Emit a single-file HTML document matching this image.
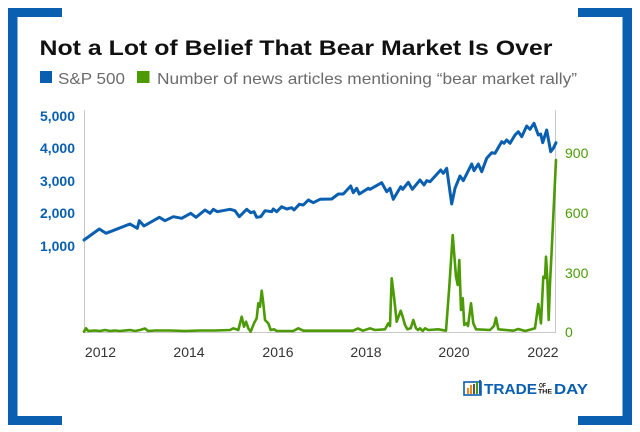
<!DOCTYPE html>
<html>
<head>
<meta charset="utf-8">
<style>
html,body{margin:0;padding:0;background:#fff;}
svg{display:block;}
text{font-family:"Liberation Sans",sans-serif;}
</style>
</head>
<body>
<svg width="640" height="432" viewBox="0 0 640 432" xmlns="http://www.w3.org/2000/svg">
<rect width="640" height="432" fill="#fff"/>
<!-- frame brackets -->
<g fill="#0a5fb0">
<rect x="8" y="8" width="54" height="9"/>
<rect x="8" y="8" width="9.5" height="417"/>
<rect x="8" y="416" width="54" height="9"/>
<rect x="578" y="8" width="54" height="9"/>
<rect x="622.5" y="8" width="9.5" height="417"/>
<rect x="578" y="416" width="54" height="9"/>
</g>
<!-- title -->
<text x="39.5" y="55" font-size="21" font-weight="bold" fill="#111" textLength="513" lengthAdjust="spacingAndGlyphs">Not a Lot of Belief That Bear Market Is Over</text>
<!-- legend -->
<rect x="40" y="71" width="12" height="12" fill="#0a5fb0"/>
<text x="58" y="84" font-size="16" fill="#6b6b6b" textLength="67" lengthAdjust="spacingAndGlyphs">S&amp;P 500</text>
<rect x="137" y="71" width="12.5" height="12" fill="#4c9a06"/>
<text x="157" y="84" font-size="16" fill="#6b6b6b" textLength="420" lengthAdjust="spacingAndGlyphs">Number of news articles mentioning “bear market rally”</text>
<!-- axes -->
<g stroke="#c8c8c8" stroke-width="1">
<line x1="84.5" y1="110" x2="84.5" y2="332"/>
<line x1="555.5" y1="110" x2="555.5" y2="332"/>
<line x1="84" y1="332.5" x2="556" y2="332.5"/>
</g>
<!-- left labels -->
<g font-size="14" font-weight="bold" fill="#0a5fb0" text-anchor="end">
<text x="75" y="121">5,000</text>
<text x="75" y="153">4,000</text>
<text x="75" y="186">3,000</text>
<text x="75" y="218">2,000</text>
<text x="75" y="251">1,000</text>
</g>
<!-- right labels -->
<g font-size="14" fill="#4c9a06">
<text x="565" y="158">900</text>
<text x="565" y="218">600</text>
<text x="565" y="278">300</text>
<text x="565" y="337">0</text>
</g>
<!-- x labels -->
<g font-size="14" fill="#333" text-anchor="middle">
<text x="100.5" y="357">2012</text>
<text x="189" y="357">2014</text>
<text x="278" y="357">2016</text>
<text x="366" y="357">2018</text>
<text x="454" y="357">2020</text>
<text x="543" y="357">2022</text>
</g>
<!-- green series -->
<polyline fill="none" stroke="#4c9a06" stroke-width="2.6" stroke-linejoin="round" stroke-linecap="round"
points="84,331.7 86,328.3 88.3,331 95,330.5 100,331 105,330 110,331 115,330.5 120,331 130,330 135,331 140,330 145,328.5 148,331 155,330.5 170,330.5 185,331 200,330.5 215,330.5 230,330 233.3,328.3 238.3,330 241.7,316.7 244,326.7 246,321.7 248.3,328.3 250.7,331.7 254,323.3 256.7,318.3 258.3,303.3 260,306.7 261.7,290.7 263.3,303.3 265,320 268.3,323.3 270.7,330 274,329.3 276.7,331 293.3,331 298.3,328.3 303.3,330.7 320,330.7 353,330.7 358,328.5 363,330.7 370,328.3 375,330 385,329.3 388.3,323.3 390,326 391.7,278.3 394,296.7 396.7,321.7 400.7,310.7 402.7,316.7 405,325 407.3,329.3 410.7,328.3 413.3,320 416,328.3 418,330 420,328.3 422.7,331 425,328.3 428.3,330 438.3,329.3 446,330.7 449.3,286.7 452.7,235 456,276.7 457.7,285 459.3,260 461,310 462.7,298.3 464.3,325 466.7,323.3 468,326 471,303.3 473.3,323.3 476,329.3 490,330 494,326 496,317.7 498.3,329.3 513.3,330.7 518.3,329 525,331 531.7,329.3 535,328.3 538.3,304 541,323.3 543.3,276.7 545,278 546,256.7 547.3,278.3 548.7,320 550,283.3 551.7,250 556,160"/>
<!-- blue series -->
<polyline fill="none" stroke="#0a5fb0" stroke-width="3" stroke-linejoin="round" stroke-linecap="round"
points="84,240 99.3,229 106,233.3 130,224 137.3,228.3 139.3,220.7 144,226 159.3,217.3 165,220.7 173.3,216.7 181.7,218.3 190.7,213.3 196,217.3 205,210 210,213.3 213.3,209.3 217.3,211.7 230,209.3 235,210.7 239.3,216.7 246.7,209.3 250.7,212.7 254,211.7 256.7,217.3 260.7,216.7 265,210.7 271.7,211.7 273.3,209 276.7,211.7 281.7,206.7 286.7,209 291.7,207.7 294,210 299.3,204.3 303.3,205 308.3,200 313.3,202.7 320,199.3 331.7,199 338.3,194 343.3,194 350.7,186 353.3,192.7 356.7,188.3 359.3,194 368.3,188.3 370,189.3 381.7,182.7 386.7,191.7 390,188.3 393.3,199.3 400.7,186.7 402.7,189.3 408.3,182.3 412.3,189.3 420,180 424,185 426.7,180.7 430,181.7 440.7,170 443.3,173.3 446.7,168.3 451.7,204 455,188.3 460,176 463.3,180.7 471.7,164 474,170.7 478.3,164 481.7,171.7 486.7,158.3 491.7,152.7 495,153.3 501.7,141.7 504,143.3 506.7,140 510,143.3 515,135 518.3,131.7 521.7,136.7 526.7,126 530,129.3 534,123.3 538.3,135 540.7,134 542.7,142.7 546.7,130 550.7,151.7 553.3,148.3 556,142.7"/>
<!-- logo -->
<g>
<rect x="464" y="382" width="17" height="13" fill="none" stroke="#0a5fb0" stroke-width="1.6"/>
<rect x="467" y="388" width="2" height="6" fill="#f08a1c"/>
<rect x="470" y="385" width="2" height="9" fill="#f08a1c"/>
<rect x="473" y="384" width="2" height="10" fill="#555"/>
<rect x="476" y="382" width="2" height="12" fill="#4c9a06"/>
<rect x="479" y="380" width="2" height="14" fill="#0a5fb0"/>
<text x="484" y="394" font-size="15" font-weight="bold" fill="#0a5fb0" textLength="53" lengthAdjust="spacingAndGlyphs">TRADE</text>
<text x="539" y="387.5" font-size="6" font-weight="bold" fill="#111" textLength="7" lengthAdjust="spacingAndGlyphs">OF</text>
<text x="538" y="393.5" font-size="6" font-weight="bold" fill="#111" textLength="14" lengthAdjust="spacingAndGlyphs">THE</text>
<text x="554" y="394" font-size="15" font-weight="bold" fill="#0a5fb0" textLength="34" lengthAdjust="spacingAndGlyphs">DAY</text>
</g>
</svg>
</body>
</html>
